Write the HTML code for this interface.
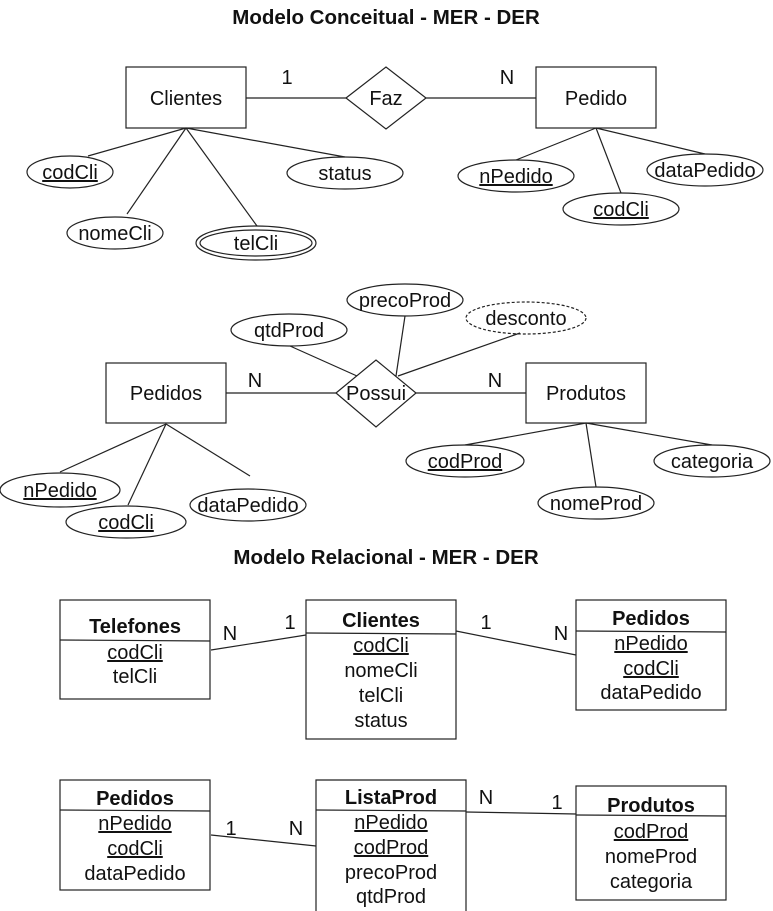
<!DOCTYPE html>
<html><head><meta charset="utf-8"><style>
html,body{margin:0;padding:0;background:#fff}
svg{display:block}
text{font-family:"Liberation Sans",Arial,sans-serif;font-size:20px;fill:#111}
.b{font-weight:bold}
.t{font-size:20.5px}
</style></head><body>
<svg width="773" height="911" viewBox="0 0 773 911" xmlns="http://www.w3.org/2000/svg">
<g stroke="#222" stroke-width="1.2" fill="none">
<rect x="126" y="67" width="120" height="61" fill="#fff"/>
<polygon points="346,98 386,67 426,98 386,129" fill="#fff"/>
<rect x="536" y="67" width="120" height="61" fill="#fff"/>
<line x1="246" y1="98" x2="346" y2="98"/>
<line x1="426" y1="98" x2="536" y2="98"/>
<line x1="186" y1="128" x2="88" y2="156"/>
<line x1="186" y1="128" x2="127" y2="214"/>
<line x1="186" y1="128" x2="257" y2="226"/>
<line x1="186" y1="128" x2="345" y2="157"/>
<ellipse cx="70" cy="172" rx="43" ry="16"/>
<ellipse cx="115" cy="233" rx="48" ry="16"/>
<ellipse cx="256" cy="243" rx="60" ry="17"/>
<ellipse cx="256" cy="243" rx="56" ry="13"/>
<ellipse cx="345" cy="173" rx="58" ry="16"/>
<line x1="596" y1="128" x2="516" y2="160"/>
<line x1="596" y1="128" x2="621" y2="193"/>
<line x1="596" y1="128" x2="705" y2="154"/>
<ellipse cx="516" cy="176" rx="58" ry="16" fill="#fff"/>
<ellipse cx="621" cy="209" rx="58" ry="16" fill="#fff"/>
<ellipse cx="705" cy="170" rx="58" ry="16" fill="#fff"/>
<rect x="106" y="363" width="120" height="60" fill="#fff"/>
<rect x="526" y="363" width="120" height="60" fill="#fff"/>
<line x1="226" y1="393" x2="336" y2="393"/>
<line x1="416" y1="393" x2="526" y2="393"/>
<polygon points="336,393 376,360 416,393 376,427" fill="#fff"/>
<line x1="290" y1="346" x2="357" y2="376"/>
<line x1="405" y1="316" x2="396" y2="376"/>
<line x1="520" y1="333" x2="398" y2="376"/>
<ellipse cx="289" cy="330" rx="58" ry="16"/>
<ellipse cx="405" cy="300" rx="58" ry="16"/>
<ellipse cx="526" cy="318" rx="60" ry="16" stroke-dasharray="3,2"/>
<line x1="166" y1="424" x2="60" y2="472"/>
<line x1="166" y1="424" x2="128" y2="505"/>
<line x1="166" y1="424" x2="250" y2="476"/>
<ellipse cx="60" cy="490" rx="60" ry="17" fill="#fff"/>
<ellipse cx="126" cy="522" rx="60" ry="16" fill="#fff"/>
<ellipse cx="248" cy="505" rx="58" ry="16" fill="#fff"/>
<line x1="586" y1="423" x2="465" y2="445"/>
<line x1="586" y1="423" x2="596" y2="487"/>
<line x1="586" y1="423" x2="712" y2="445"/>
<ellipse cx="465" cy="461" rx="59" ry="16" fill="#fff"/>
<ellipse cx="596" cy="503" rx="58" ry="16" fill="#fff"/>
<ellipse cx="712" cy="461" rx="58" ry="16" fill="#fff"/>
<rect x="60" y="600" width="150" height="99"/>
<line x1="60" y1="640" x2="210" y2="641"/>
<rect x="306" y="600" width="150" height="139"/>
<line x1="306" y1="633" x2="456" y2="634"/>
<rect x="576" y="600" width="150" height="110"/>
<line x1="576" y1="631" x2="726" y2="632"/>
<line x1="211" y1="650" x2="306" y2="635"/>
<line x1="456" y1="631" x2="576" y2="655"/>
<rect x="60" y="780" width="150" height="110"/>
<line x1="60" y1="810" x2="210" y2="811"/>
<path d="M316,912 V780 H466 V912"/>
<line x1="316" y1="810" x2="466" y2="811"/>
<rect x="576" y="786" width="150" height="114"/>
<line x1="576" y1="815" x2="726" y2="816"/>
<line x1="211" y1="835" x2="316" y2="846"/>
<line x1="466" y1="812" x2="576" y2="814"/>
</g>
<g text-anchor="middle">
<text x="386" y="24" class="b t">Modelo Conceitual - MER - DER</text>
<text x="186" y="105">Clientes</text>
<text x="386" y="105">Faz</text>
<text x="596" y="105">Pedido</text>
<text x="287" y="84">1</text>
<text x="507" y="84">N</text>
<text x="70" y="179" text-decoration="underline">codCli</text>
<text x="115" y="240">nomeCli</text>
<text x="256" y="250">telCli</text>
<text x="345" y="180">status</text>
<text x="516" y="183" text-decoration="underline">nPedido</text>
<text x="621" y="216" text-decoration="underline">codCli</text>
<text x="705" y="177">dataPedido</text>
<text x="166" y="400">Pedidos</text>
<text x="376" y="400">Possui</text>
<text x="586" y="400">Produtos</text>
<text x="255" y="387">N</text>
<text x="495" y="387">N</text>
<text x="289" y="337">qtdProd</text>
<text x="405" y="307">precoProd</text>
<text x="526" y="325">desconto</text>
<text x="60" y="497" text-decoration="underline">nPedido</text>
<text x="126" y="529" text-decoration="underline">codCli</text>
<text x="248" y="512">dataPedido</text>
<text x="465" y="468" text-decoration="underline">codProd</text>
<text x="596" y="510">nomeProd</text>
<text x="712" y="468">categoria</text>
<text x="386" y="564" class="b t">Modelo Relacional - MER - DER</text>
<text x="135" y="633" class="b">Telefones</text>
<text x="135" y="659" text-decoration="underline">codCli</text>
<text x="135" y="683">telCli</text>
<text x="381" y="627" class="b">Clientes</text>
<text x="381" y="652" text-decoration="underline">codCli</text>
<text x="381" y="677">nomeCli</text>
<text x="381" y="702">telCli</text>
<text x="381" y="727">status</text>
<text x="651" y="625" class="b">Pedidos</text>
<text x="651" y="650" text-decoration="underline">nPedido</text>
<text x="651" y="675" text-decoration="underline">codCli</text>
<text x="651" y="699">dataPedido</text>
<text x="230" y="640">N</text>
<text x="290" y="629">1</text>
<text x="486" y="629">1</text>
<text x="561" y="640">N</text>
<text x="135" y="805" class="b">Pedidos</text>
<text x="135" y="830" text-decoration="underline">nPedido</text>
<text x="135" y="855" text-decoration="underline">codCli</text>
<text x="135" y="880">dataPedido</text>
<text x="391" y="804" class="b">ListaProd</text>
<text x="391" y="829" text-decoration="underline">nPedido</text>
<text x="391" y="854" text-decoration="underline">codProd</text>
<text x="391" y="879">precoProd</text>
<text x="391" y="903">qtdProd</text>
<text x="651" y="812" class="b">Produtos</text>
<text x="651" y="838" text-decoration="underline">codProd</text>
<text x="651" y="863">nomeProd</text>
<text x="651" y="888">categoria</text>
<text x="231" y="835">1</text>
<text x="296" y="835">N</text>
<text x="486" y="804">N</text>
<text x="557" y="809">1</text>
</g>
</svg>
</body></html>
